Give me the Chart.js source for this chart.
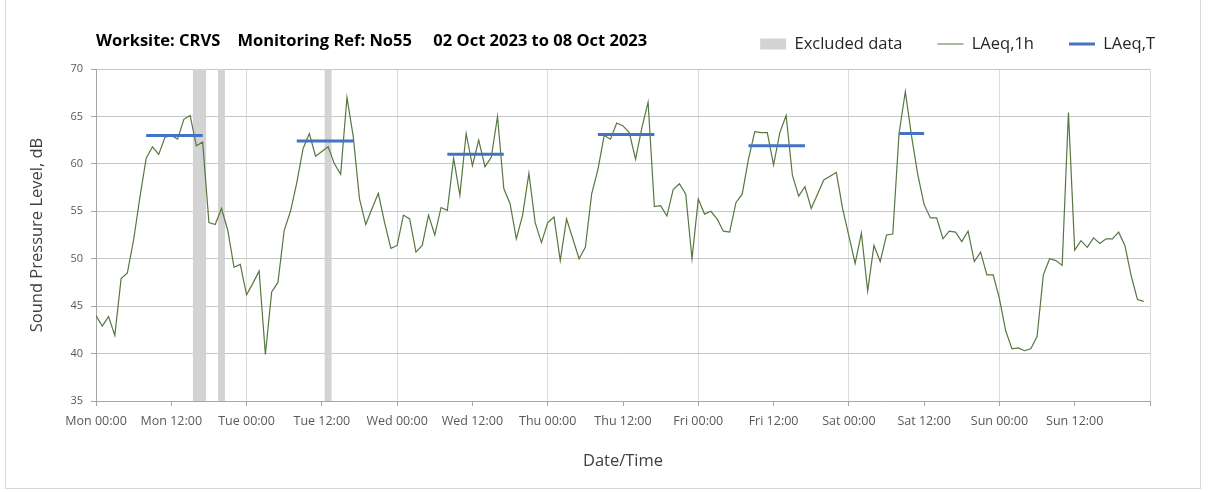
<!DOCTYPE html>
<html>
<head>
<meta charset="utf-8">
<script src="https://cdn.jsdelivr.net/npm/chart.js@4.4.0/dist/chart.umd.min.js"></script>
<style>
  html, body { margin: 0; padding: 0; background: #fff; }
  #wrap { position: relative; width: 1208px; height: 492px; }
  #frame { position: absolute; left: 5px; top: -2px; width: 1194px; height: 489px; border: 1px solid #d9d9d9; pointer-events: none; }
</style>
</head>
<body>
<div id="wrap">
  <canvas id="graph1"></canvas>
  <div id="frame"></div>
</div>
<script>
// titre + libellés
let titleText = "Worksite: CRVS    Monitoring Ref: No55     02 Oct 2023 to 08 Oct 2023";
let tickLabels = ["Mon 00:00", "Mon 12:00", "Tue 00:00", "Tue 12:00", "Wed 00:00", "Wed 12:00",
  "Thu 00:00", "Thu 12:00", "Fri 00:00", "Fri 12:00", "Sat 00:00", "Sat 12:00", "Sun 00:00", "Sun 12:00", ""];

// LAeq,1h : une valeur par heure depuis lundi 00:00
let laeq1h = [
  44.0, 42.9, 43.9, 41.9, 47.9, 48.5, 52.0, 56.5, 60.6, 61.8, 61.0, 62.8, 63.0, 62.6, 64.7, 65.1, 61.9, 62.3, 53.8, 53.6, 55.3, 53.0, 49.1, 49.4,
  46.2, 47.4, 48.7, 39.9, 46.5, 47.5, 53.0, 55.0, 58.0, 61.6, 63.2, 60.8, 61.3, 61.8, 60.0, 58.9, 67.0, 62.9, 56.3, 53.6, 55.3, 56.9, 53.8, 51.1,
  51.4, 54.6, 54.2, 50.7, 51.4, 54.6, 52.5, 55.4, 55.1, 60.6, 56.7, 63.2, 59.8, 62.5, 59.7, 60.7, 65.0, 57.4, 55.8, 52.1, 54.6, 59.0, 53.8, 51.7,
  53.8, 54.4, 49.8, 54.2, 52.1, 50.0, 51.2, 56.8, 59.4, 63.0, 62.6, 64.3, 64.0, 63.3, 60.5, 63.8, 66.5, 55.5, 55.6, 54.5, 57.3, 57.9, 56.8, 50.0,
  56.3, 54.7, 55.0, 54.2, 52.9, 52.8, 55.9, 56.8, 60.5, 63.4, 63.3, 63.3, 59.9, 63.3, 65.1, 58.8, 56.6, 57.6, 55.3, 56.8, 58.3, 58.7, 59.1, 55.3,
  52.4, 49.5, 52.7, 46.6, 51.4, 49.7, 52.5, 52.6, 63.2, 67.6, 62.9, 58.8, 55.7, 54.3, 54.3, 52.1, 52.9, 52.8, 51.8, 52.9, 49.7, 50.7, 48.3, 48.3,
  45.8, 42.4, 40.5, 40.6, 40.3, 40.5, 41.8, 48.3, 50.0, 49.8, 49.3, 65.4, 50.9, 51.9, 51.2, 52.2, 51.6, 52.1, 52.1, 52.8, 51.4, 48.2, 45.7, 45.5
];

// LAeq,T : périodes de travail (heure début, heure fin, niveau)
let periodStart = [8, 32, 56, 80, 104, 128];
let periodEnd = [17, 41, 65, 89, 113, 132];
let periodLevel = [63.0, 62.4, 61.0, 63.1, 61.9, 63.2];

// heures exclues
let excludedHours = [16, 17, 20, 37];

let yMin = 35;
let yMax = 70;

let lineData = laeq1h.map((v, i) => ({ x: i, y: v }));

let periodData = [];
for (let i = 0; i < periodStart.length; i++) {
  periodData.push({ x: periodStart[i], y: periodLevel[i] });
  periodData.push({ x: periodEnd[i], y: periodLevel[i] });
  periodData.push({ x: periodEnd[i] + 1, y: null });
}

let excludedData = excludedHours.map(h => ({ x: h, y: [yMin, yMax] }));

let legendStyles = ["rect", "line", "line"];
let font = "'Open Sans', 'DejaVu Sans', sans-serif";

let ctx = document.getElementById("graph1");
new Chart(ctx, {
  type: "line",
  data: {
    datasets: [
      {
        type: "bar",
        label: "Excluded data",
        data: excludedData,
        backgroundColor: "#d3d3d3",
        barPercentage: 1,
        categoryPercentage: 1,
        grouped: false,
        order: 3
      },
      {
        label: "LAeq,1h",
        data: lineData,
        borderColor: "#56773f",
        backgroundColor: "#56773f",
        borderWidth: 1.2,
        pointRadius: 0,
        tension: 0,
        order: 2
      },
      {
        label: "LAeq,T",
        data: periodData,
        borderColor: "#4472c4",
        backgroundColor: "#4472c4",
        borderWidth: 3,
        pointRadius: 0,
        spanGaps: false,
        order: 1
      }
    ]
  },
  options: {
    responsive: true,
    maintainAspectRatio: false,
    animation: false,
    layout: { padding: { top: 0.75, right: 18, bottom: 0, left: 0 } },
    plugins: {
      tooltip: { enabled: false },
      title: {
        display: true,
        text: titleText,
        align: "start",
        fullSize: false,
        weight: 500,
        color: "#000000",
        font: { family: font, size: 16.5, weight: "bold" },
        padding: { top: -31.15, bottom: 18.1 }
      },
      legend: {
        position: "top",
        align: "end",
        labels: {
          usePointStyle: true,
          pointStyleWidth: 26,
          boxHeight: 11,
          padding: 35,
          color: "#262626",
          font: { family: font, size: 16.5 },
          sort: (a, b) => a.datasetIndex - b.datasetIndex,
          generateLabels: chart => Chart.defaults.plugins.legend.labels.generateLabels(chart).map(item => {
            item.pointStyle = legendStyles[item.datasetIndex];
            return item;
          })
        }
      }
    },
    scales: {
      x: {
        type: "linear",
        min: 0,
        max: 168,
        offset: false,
        ticks: {
          stepSize: 12,
          autoSkip: false,
          maxRotation: 0,
          padding: 8,
          color: "#595959",
          font: { family: font, size: 12.5 },
          callback: v => tickLabels[v / 12] || ""
        },
        grid: {
          offset: false,
          color: c => (c.tick && c.tick.value % 24 === 0) ? "#dcdcdc" : "rgba(0,0,0,0)",
          tickColor: "#a6a6a6",
          tickLength: 5
        },
        border: { color: "#a6a6a6" },
        title: {
          display: true,
          text: "Date/Time",
          color: "#404040",
          font: { family: font, size: 16.5 },
          padding: { top: 4, bottom: 21 }
        },
        afterFit: s => { s.height = 91; }
      },
      y: {
        min: yMin,
        max: yMax,
        ticks: {
          stepSize: 5,
          padding: 8,
          color: "#595959",
          font: { family: font, size: 11 }
        },
        grid: { color: "#c6c6c6", tickColor: "#a6a6a6", tickLength: 5 },
        border: { color: "#a6a6a6" },
        title: {
          display: true,
          text: "Sound Pressure Level, dB",
          color: "#404040",
          font: { family: font, size: 16.5 },
          padding: { top: 27, bottom: 0 }
        },
        afterFit: s => { s.width = 96; }
      },
      yR: {
        type: "linear",
        position: "right",
        display: true,
        grid: { display: false },
        border: { display: false },
        ticks: { display: false },
        afterFit: s => { s.width = 40; }
      }
    }
  }
});
</script>
</body>
</html>
